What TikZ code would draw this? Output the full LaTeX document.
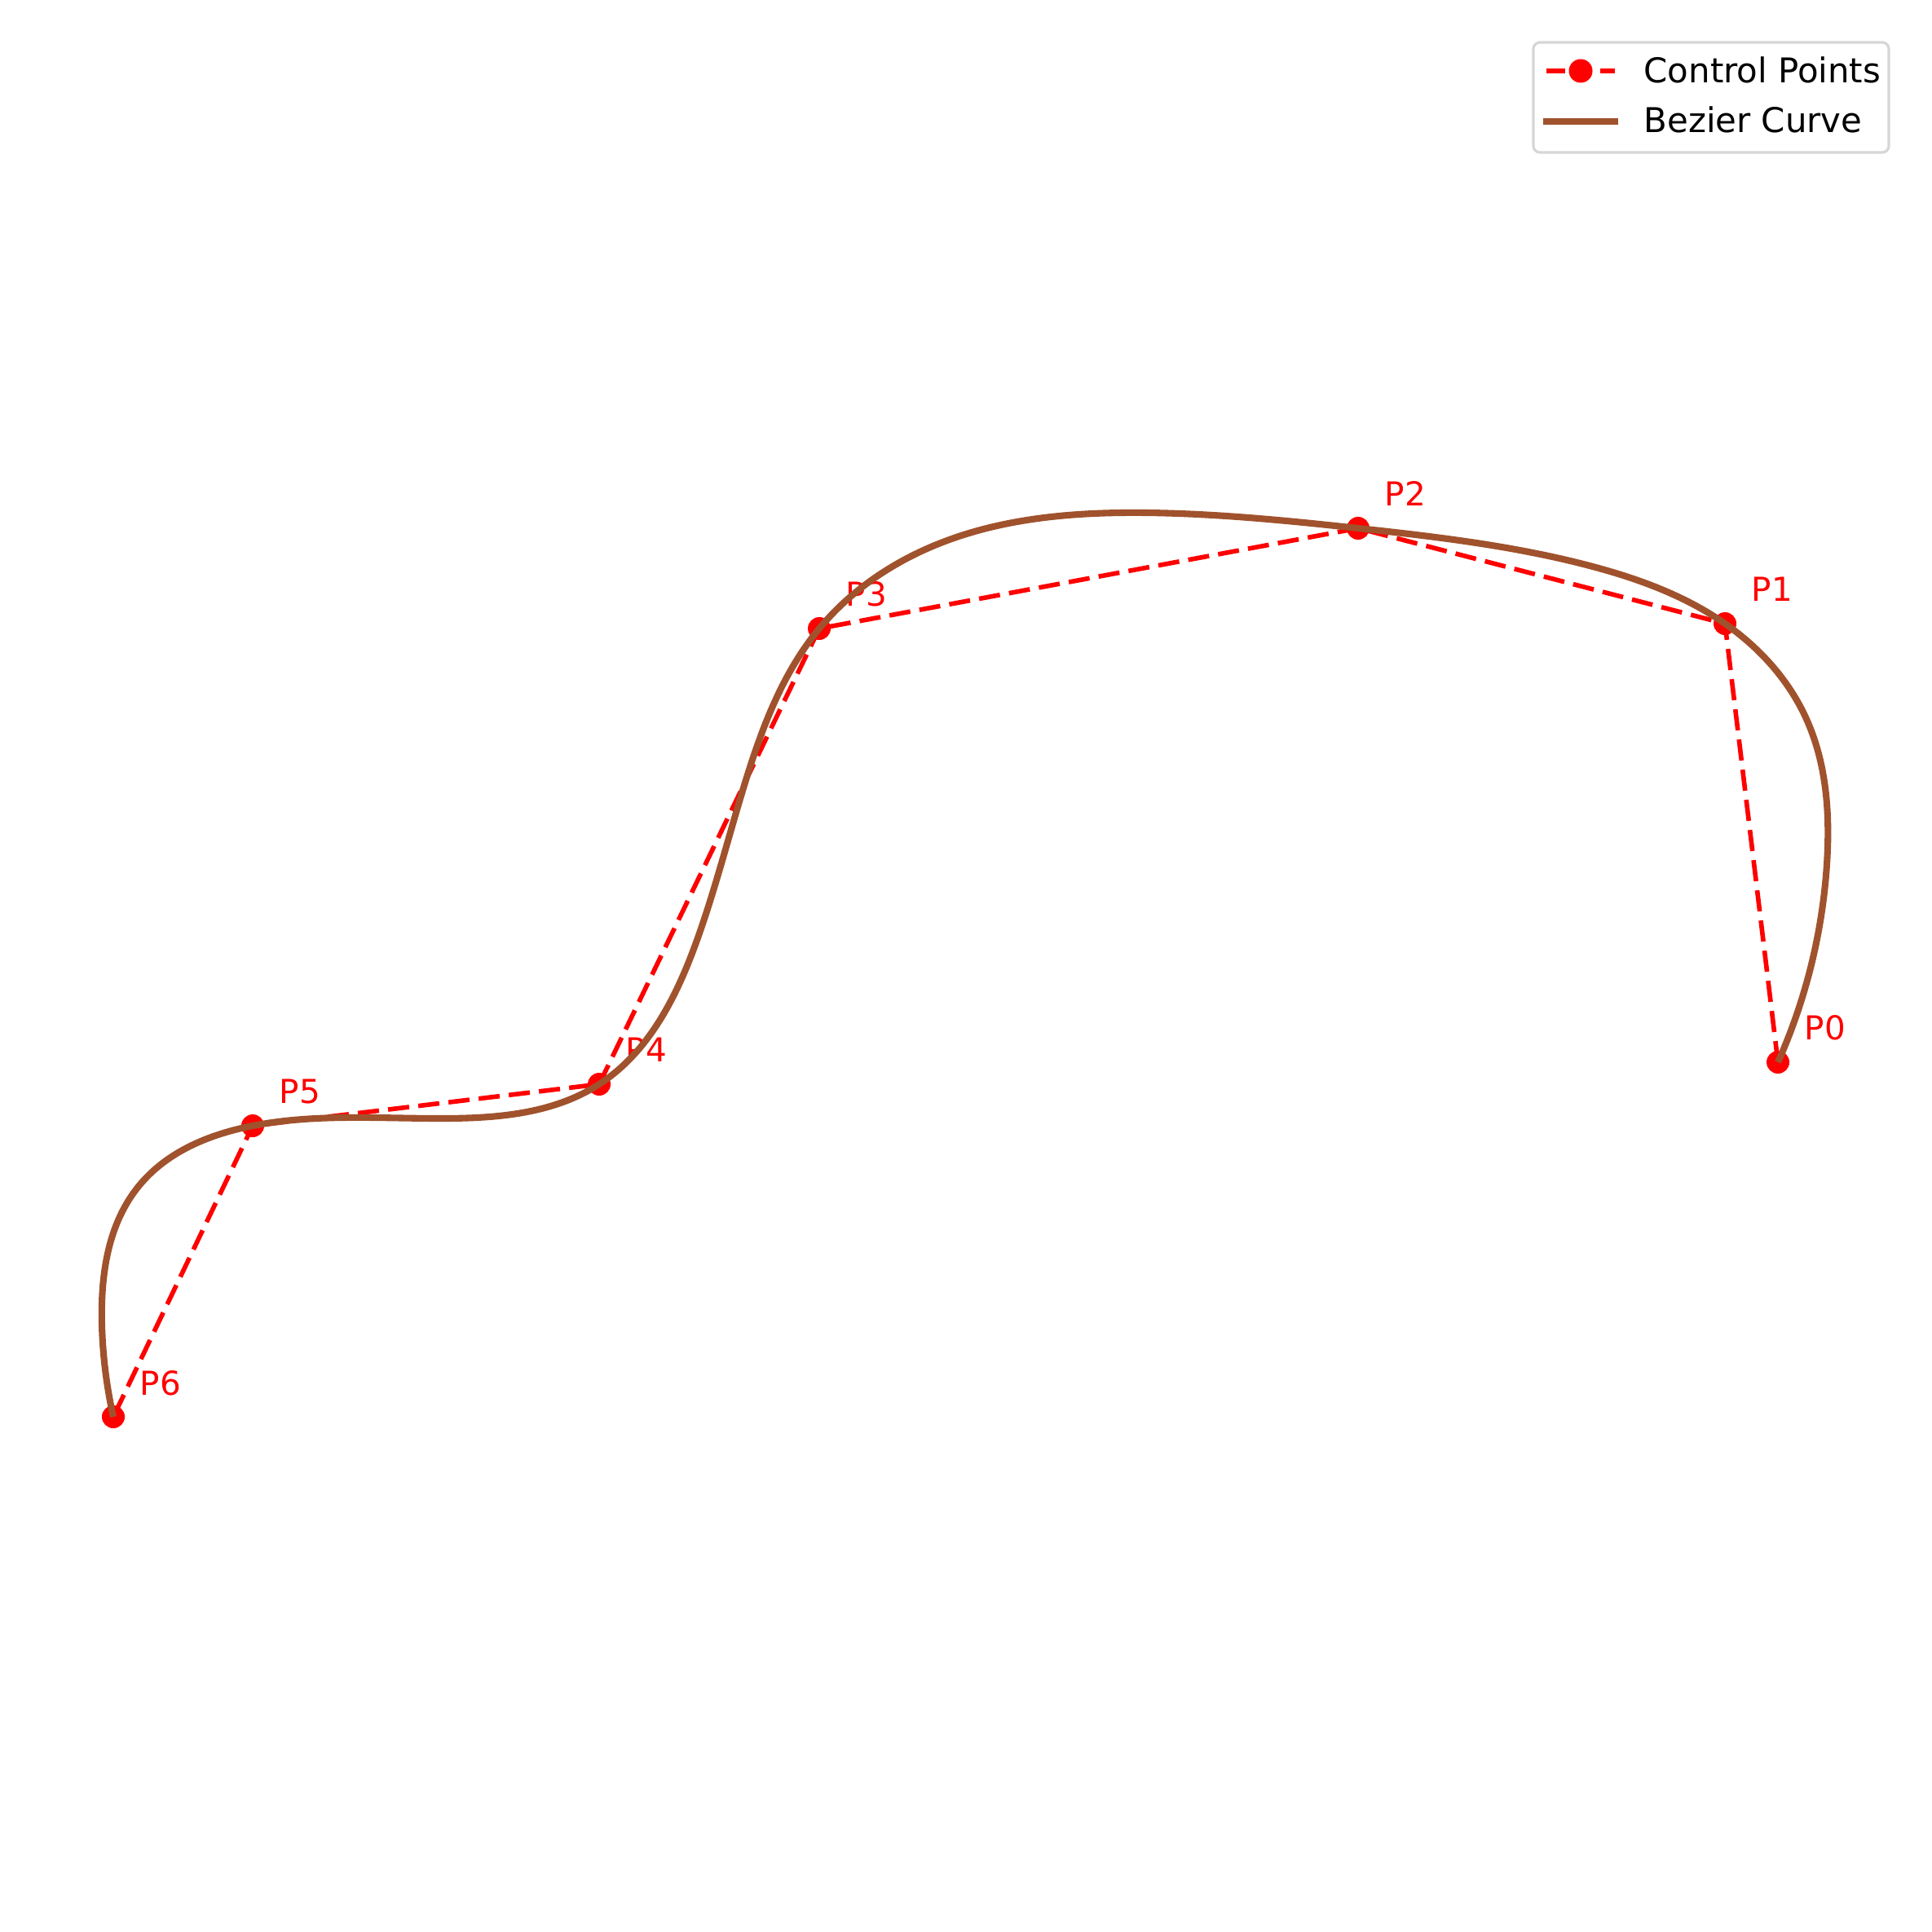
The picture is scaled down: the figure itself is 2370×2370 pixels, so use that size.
\documentclass[tikz,border=0pt]{standalone}
\usepackage{fontspec}
\setmainfont{DejaVu Sans}
\usetikzlibrary{hobby}
\definecolor{sienna}{HTML}{A0522D}
\definecolor{legframe}{HTML}{D6D6D6}
\begin{document}
\begin{tikzpicture}[x=0.01cm,y=-0.01cm,
  ctrl/.style={red,line width=1.6pt,dash pattern=on 7.4pt off 3.2pt},
  dot/.style={circle,fill=red,inner sep=0pt,minimum size=0.28cm},
  bez/.style={sienna,line width=2.3pt,line join=round},
  lab/.style={red,font=\fontsize{11.5}{13}\selectfont,anchor=base west,inner sep=0pt},
  legtext/.style={black,font=\fontsize{11.9}{14}\selectfont,anchor=base west,inner sep=0pt}]
\useasboundingbox[fill=white] (0,0) rectangle (2370,2370);
% control points
\coordinate (p0) at (2181,1303);
\coordinate (p1) at (2116,765);
\coordinate (p2) at (1666,648);
\coordinate (p3) at (1005,771);
\coordinate (p4) at (735,1330);
\coordinate (p5) at (310,1381);
\coordinate (p6) at (139,1738);
\draw[ctrl] (p0) -- (p1) -- (p2) -- (p3) -- (p4) -- (p5) -- (p6);
\foreach \i in {0,...,6}{
  \node[dot] (m\i) at (p\i) {};
  \node[lab] (l\i) at ([xshift=0.32cm,yshift=0.27cm]p\i) {P\i};
}
% curve
\draw[bez,use Hobby shortcut] (p0) .. (2241,1060) .. (2215,880) .. (p1) .. (1950,694) .. (p2)
 .. (1406,629) .. (1149,668) .. (p3) .. (914,960) .. (854,1156) .. (p4) .. (544,1372)
 .. (p5) .. (171,1454) .. (125,1625) .. (p6);
% legend
\draw[legframe,line width=0.9pt,fill=white,rounded corners=0.08cm] (1881,52) rectangle (2317,187);
\coordinate (la) at (1897,87);
\coordinate (lb) at (1981,87);
\draw[red,line width=1.6pt] (la) -- ++(23,0);
\draw[red,line width=1.6pt] (lb) -- ++(-18,0);
\node[dot,minimum size=0.29cm] (lm) at (1939,87) {};
\node[legtext] (lt1) at (2016,102) {Control Points};
\coordinate (lc) at (1893,149);
\coordinate (ld) at (1985,149);
\draw[sienna,line width=2.3pt] (lc) -- (ld);
\node[legtext] (lt2) at (2016,163) {Bezier Curve};
\end{tikzpicture}
\end{document}
